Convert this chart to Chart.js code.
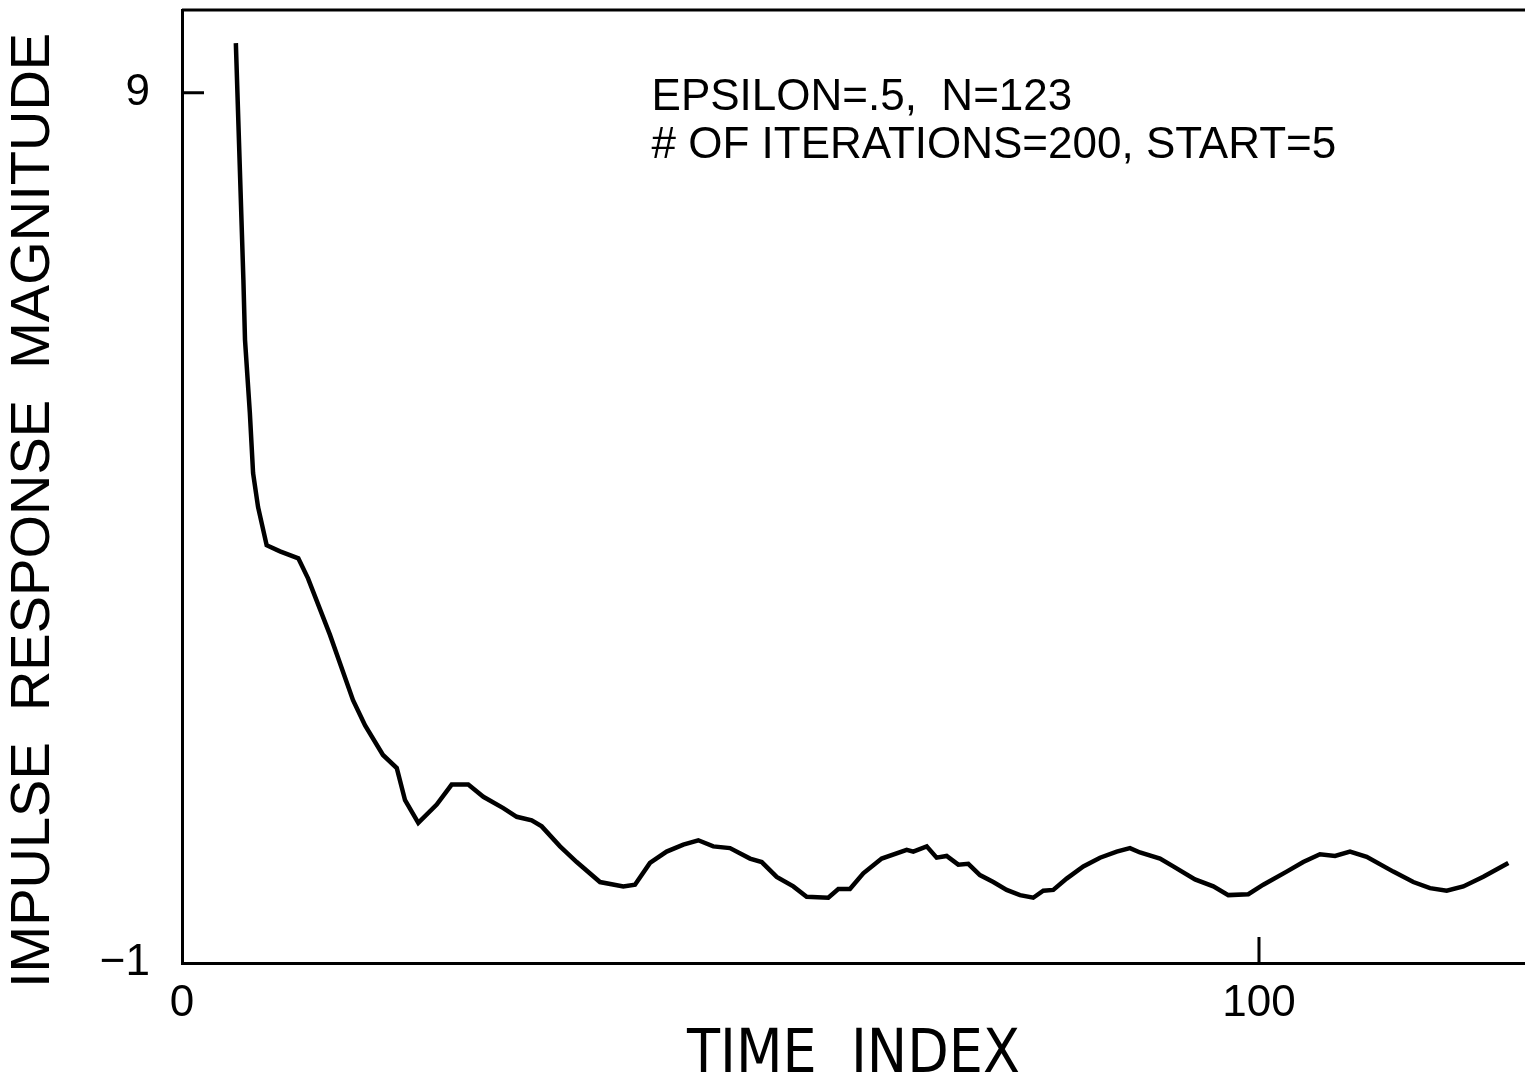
<!DOCTYPE html>
<html>
<head>
<meta charset="utf-8">
<script src="https://cdn.jsdelivr.net/npm/chart.js@4/dist/chart.umd.min.js"></script>
<style>
  html, body { margin: 0; padding: 0; background: #fff; }
  canvas { display: block; }
</style>
</head>
<body>
<canvas id="impulseChart" width="1525" height="1086"></canvas>
<script>
// values
const timeIndex = [5.0, 5.7, 5.85, 6.3, 6.6, 7.06, 7.86, 9.1, 10.8, 11.7, 13.74, 15.88, 17.0, 18.66, 19.94, 20.71,
    21.94, 23.65, 25.04, 26.58, 27.98, 29.83, 31.08, 32.47, 33.4, 35.1, 36.65, 38.81, 40.98, 42.06, 43.45, 45.0,
    46.55, 47.94, 49.33, 50.88, 52.74, 53.83, 55.22, 56.76, 58.0, 60.01, 60.94, 62.02, 63.26, 64.97, 67.29, 67.9,
    69.15, 70.07, 71.0, 72.08, 73.01, 74.09, 75.33, 76.57, 77.81, 79.04, 79.97, 80.9, 82.14, 83.69, 85.24, 86.79,
    88.02, 88.95, 90.81, 92.04, 94.06, 95.76, 97.15, 99.01, 100.4, 102.57, 104.11, 105.66, 107.06, 108.45, 110.0,
    112.47, 114.33, 115.88, 117.43, 118.97, 120.83, 123.15];
const magnitude = [9.57, 6.85, 6.16, 5.32, 4.63, 4.24, 3.80, 3.73, 3.65, 3.42, 2.77, 2.02, 1.73, 1.39, 1.24, 0.87,
    0.61, 0.82, 1.05, 1.05, 0.91, 0.78, 0.68, 0.64, 0.57, 0.34, 0.16, -0.07, -0.12, -0.10, 0.15, 0.28,
    0.36, 0.41, 0.34, 0.32, 0.20, 0.16, -0.01, -0.12, -0.24, -0.25, -0.15, -0.15, 0.03, 0.20, 0.30, 0.28,
    0.34, 0.21, 0.23, 0.13, 0.14, 0.01, -0.07, -0.16, -0.22, -0.25, -0.17, -0.16, -0.03, 0.11, 0.21, 0.28,
    0.32, 0.27, 0.20, 0.11, -0.04, -0.12, -0.22, -0.21, -0.10, 0.05, 0.16, 0.25, 0.23, 0.28, 0.22,
    0.05, -0.07, -0.14, -0.17, -0.12, -0.01, 0.15];
const xTicks = [0, 100];
const yTicks = [-1, 9];
const noteLines = ['EPSILON=.5,  N=123', '# OF ITERATIONS=200, START=5'];
const yTitle = 'IMPULSE  RESPONSE  MAGNITUDE';

const FONT = "'Liberation Sans', Arial, Helvetica, sans-serif";
const NARROW = "'Liberation Sans Narrow', 'DejaVu Sans Condensed', 'Liberation Sans', sans-serif";

// top border, inward tick marks, y title and the parameter note
const framePlugin = {
    id: 'frame',
    afterDraw(chart) {
        const { ctx, chartArea: a, scales: { x, y } } = chart;
        ctx.save();
        ctx.strokeStyle = '#000';
        ctx.lineWidth = 3;
        ctx.beginPath();
        ctx.moveTo(a.left, a.top);
        ctx.lineTo(a.right, a.top);
        xTicks.forEach(v => {
            const px = x.getPixelForValue(v);
            if (px > a.left + 2) { ctx.moveTo(px, a.bottom); ctx.lineTo(px, a.bottom - 26); }
        });
        yTicks.forEach(v => {
            const py = y.getPixelForValue(v);
            if (py < a.bottom - 2) { ctx.moveTo(a.left, py); ctx.lineTo(a.left + 22, py); }
        });
        ctx.stroke();

        ctx.fillStyle = '#000';
        ctx.font = '44px ' + FONT;
        ctx.textBaseline = 'alphabetic';
        const nx = x.getPixelForValue(43.6);
        noteLines.forEach((t, i) => {
            ctx.fillText(t, nx, y.getPixelForValue(8.8) + i * 48);
        });

        // axis title sits a bit below the middle of the axis in the original
        ctx.font = '56px ' + FONT;
        ctx.textAlign = 'center';
        ctx.textBaseline = 'middle';
        ctx.translate(34, y.getPixelForValue(4.2));
        ctx.rotate(-Math.PI / 2);
        ctx.fillText(yTitle, 0, 0);
        ctx.restore();
    }
};

const ctx = document.getElementById('impulseChart').getContext('2d');

const impulseChart = new Chart(ctx, {
    type: 'line',
    data: {
        datasets: [{
            data: timeIndex.map((t, i) => ({ x: t, y: magnitude[i] })),
            borderColor: '#000',
            borderWidth: 4.5,
            pointRadius: 0,
            tension: 0,
            fill: false,
        }]
    },
    options: {
        responsive: false,
        animation: false,
        layout: { padding: { top: 10, right: 0, left: 0, bottom: 0 } },
        plugins: {
            legend: { display: false },
            tooltip: { enabled: false },
        },
        scales: {
            x: {
                type: 'linear',
                min: 0,
                max: 124.7,
                afterBuildTicks: s => { s.ticks = xTicks.map(v => ({ value: v })); },
                afterFit: s => { s.height = 123; },
                grid: { display: false },
                border: { display: true, color: '#000', width: 3 },
                ticks: {
                    color: '#000',
                    padding: 6,
                    maxRotation: 0,
                    font: { size: 44, family: FONT },
                },
                title: {
                    display: true,
                    text: 'TIME  INDEX',
                    color: '#000',
                    padding: 0,
                    font: { size: 60, family: NARROW, lineHeight: 1.0 },
                },
            },
            y: {
                min: -1,
                max: 9.95,
                afterBuildTicks: s => { s.ticks = yTicks.map(v => ({ value: v })); },
                afterFit: s => { s.width = 182; s.paddingTop = 0; s.paddingBottom = 0; },
                grid: { display: false },
                border: { display: true, color: '#000', width: 3 },
                ticks: {
                    color: '#000',
                    padding: 24,
                    font: { size: 44, family: FONT },
                    callback: v => (v < 0 ? '\u2212' + Math.abs(v) : String(v)),
                },
                title: { display: false },
            },
        },
    },
    plugins: [framePlugin],
});
</script>
</body>
</html>
